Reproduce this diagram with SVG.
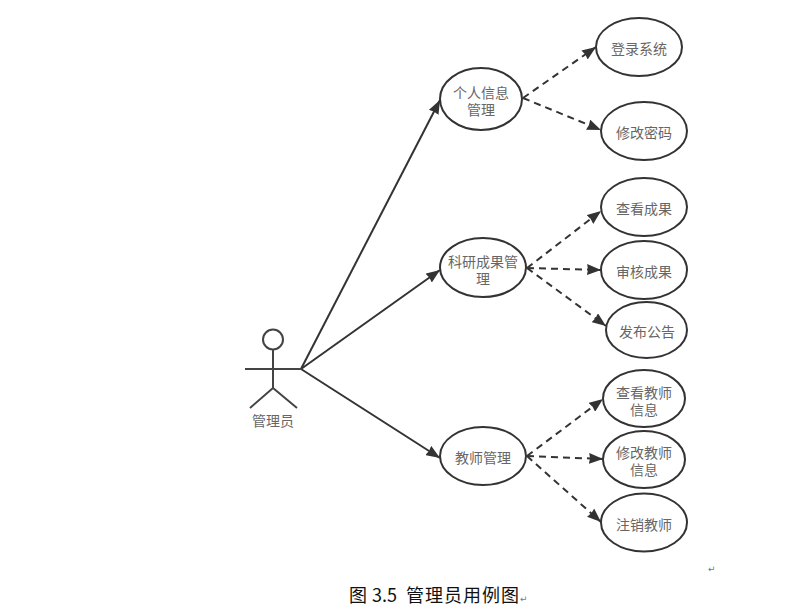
<svg xmlns="http://www.w3.org/2000/svg" width="798" height="615" viewBox="0 0 798 615">
<style>
.n{fill:#fff;stroke:#333;stroke-width:2}
.t{font-family:"Noto Sans CJK SC","Liberation Sans",sans-serif;font-size:14px;fill:#666;text-anchor:middle}
.s{fill:none;stroke:#333;stroke-width:2}
.d{fill:none;stroke:#333;stroke-width:2;stroke-dasharray:7 5}
.a{fill:none;stroke:#444;stroke-width:2}
.c{font-family:"Noto Sans CJK SC","Liberation Sans",sans-serif;font-size:18px;fill:#111}
.r{font-family:"DejaVu Sans",sans-serif;font-size:9px;fill:#777}
</style>
<defs>
<marker id="ah" markerUnits="userSpaceOnUse" markerWidth="15" markerHeight="11" refX="14" refY="5.500" orient="auto"><path d="M0 0L14 5.500L0 11L1 5.500Z" fill="#333"/></marker>
</defs>
<rect width="798" height="615" fill="#fff"/>
<g id="connectors">
<path class="s" marker-end="url(#ah)" d="M301 369L440 100"/>
<path class="s" marker-end="url(#ah)" d="M301 369L440 270"/>
<path class="s" marker-end="url(#ah)" d="M301 369L440 458"/>
<path class="d" marker-end="url(#ah)" d="M523 98L596 47"/>
<path class="d" marker-end="url(#ah)" d="M523 98L601 130"/>
<path class="d" marker-end="url(#ah)" d="M527 268L601 211"/>
<path class="d" marker-end="url(#ah)" d="M527 268L601 270"/>
<path class="d" marker-end="url(#ah)" d="M527 268L606 326"/>
<path class="d" marker-end="url(#ah)" d="M527 456L603 399"/>
<path class="d" marker-end="url(#ah)" d="M527 456L603 459"/>
<path class="d" marker-end="url(#ah)" d="M527 456L601 522"/>
</g>
<g id="actor">
<circle class="a" cx="273" cy="339.500" r="10"/>
<path class="a" d="M273 349.500V388M245 369H302M273 388L250 408M273 388L297 408"/>
<text class="t" x="273" y="426">管理员</text>
</g>
<g id="n1"><ellipse class="n" cx="481" cy="99" rx="41" ry="31"/><text class="t" y="98"><tspan x="481">个人信息</tspan><tspan x="481" dy="17">管理</tspan></text></g>
<g id="n2"><ellipse class="n" cx="483" cy="267.500" rx="43" ry="29.500"/><text class="t" y="267"><tspan x="483">科研成果管</tspan><tspan x="483" dy="17">理</tspan></text></g>
<g id="n3"><ellipse class="n" cx="483" cy="456" rx="43" ry="29"/><text class="t" x="483" y="463">教师管理</text></g>
<g id="n4"><ellipse class="n" cx="639" cy="47" rx="43" ry="29"/><text class="t" x="639" y="54">登录系统</text></g>
<g id="n5"><ellipse class="n" cx="644" cy="131" rx="43" ry="29"/><text class="t" x="644" y="138">修改密码</text></g>
<g id="n6"><ellipse class="n" cx="644" cy="207" rx="43" ry="29"/><text class="t" x="644" y="214">查看成果</text></g>
<g id="n7"><ellipse class="n" cx="644" cy="270" rx="43" ry="29"/><text class="t" x="644" y="277">审核成果</text></g>
<g id="n8"><ellipse class="n" cx="646.500" cy="330" rx="40.500" ry="28"/><text class="t" x="647" y="337">发布公告</text></g>
<g id="n9"><ellipse class="n" cx="644" cy="398.500" rx="41" ry="28.500"/><text class="t" y="398"><tspan x="644">查看教师</tspan><tspan x="644" dy="17">信息</tspan></text></g>
<g id="n10"><ellipse class="n" cx="644" cy="459.500" rx="41" ry="28.500"/><text class="t" y="458"><tspan x="644">修改教师</tspan><tspan x="644" dy="17">信息</tspan></text></g>
<g id="n11"><ellipse class="n" cx="644" cy="522.500" rx="43" ry="29"/><text class="t" x="644" y="530">注销教师</text></g>
<text class="c" y="602"><tspan x="349">图</tspan><tspan x="372">3.5</tspan><tspan x="406" letter-spacing="1">管理员用例图</tspan></text>
<text class="r" x="520" y="602">↵</text>
<text class="r" x="708" y="572">↵</text>
</svg>
